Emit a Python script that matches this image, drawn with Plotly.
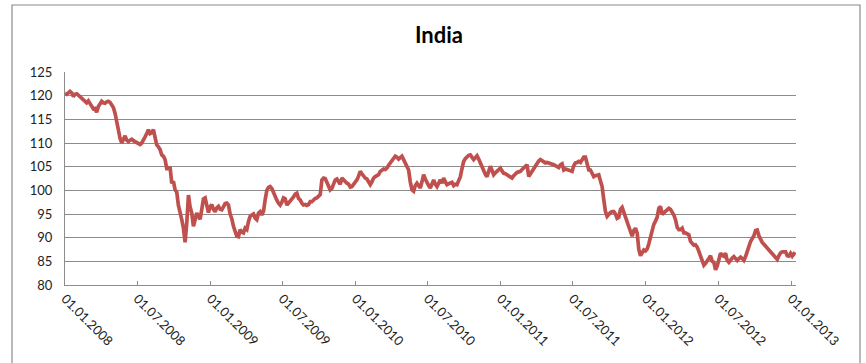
import pandas as pd
import plotly.graph_objects as go

# ---- data -------------------------------------------------------------
start_date = "2008-01-01"
end_date = "2013-01-12"

values = [
    120.5, 120.3, 120.6, 120.9, 120.6, 119.8, 120.3, 120.4, 120.1, 119.8,
    119.6, 119.3, 119.0, 118.5, 118.9, 118.3, 117.7, 117.2, 117.3, 116.5,
    117.7, 118.2, 118.8, 118.5, 118.4, 118.7, 118.8, 118.6, 118.1, 117.5,
    116.3, 114.2, 112.7, 111.0, 110.0, 110.6, 111.5, 110.6, 110.3, 110.6,
    110.8, 110.5, 110.3, 110.0, 109.7, 109.7, 110.0, 110.5, 111.3, 112.0,
    112.8, 112.0, 112.2, 112.8, 111.0, 109.6, 109.2, 108.6, 107.5, 107.2,
    106.5, 104.6, 104.6, 104.9, 101.5, 101.9, 100.1, 99.6, 96.8, 95.6,
    93.8, 92.0, 89.0, 93.1, 99.0,
    96.5, 95.2, 92.4, 94.0, 95.2, 94.5, 93.9, 96.0, 98.2, 98.4,
    96.6, 95.3, 96.5, 97.0, 96.0, 95.5, 96.3, 96.6, 96.0, 95.9,
    96.5, 97.2, 97.3, 96.9, 95.0, 94.0, 92.4, 91.3, 90.3, 90.2,
    91.7, 91.2, 91.0, 92.0, 91.7, 93.4, 94.5, 94.8, 95.0, 94.1,
    93.8, 95.2, 95.5, 94.8, 95.6, 98.0, 100.0, 100.6, 100.8, 100.4,
    99.4, 98.5, 97.9, 97.3, 96.9, 97.5, 98.4, 98.2, 96.9, 97.3,
    97.7, 98.0, 98.6, 99.2, 99.4, 98.3, 98.0, 97.3, 96.9, 97.0,
    96.8, 97.0, 97.6, 97.6, 98.0, 98.3, 98.4, 98.7, 99.1, 102.2,
    102.6, 102.5, 101.8, 101.2, 100.1, 100.4, 101.2, 102.2, 102.4, 101.8,
    101.3, 102.6, 102.2, 101.7, 101.5, 101.3, 100.7, 100.8, 101.2, 101.6,
    102.2, 103.0, 104.0, 103.5, 103.0, 102.6, 102.4, 101.8, 101.2, 101.8,
    102.6, 102.9, 103.1, 103.3, 104.0, 104.3, 104.5, 104.4, 104.7, 105.3,
    105.8, 106.5, 106.9, 107.2, 107.0, 106.6, 106.9, 107.2, 106.5, 105.8,
    105.2, 104.3, 101.8, 100.1, 99.8, 101.0, 101.5, 100.8, 100.5, 101.8,
    103.3, 102.4, 101.5, 101.0, 100.5, 101.4, 102.2, 101.3, 100.8, 101.5,
    102.2, 101.5, 102.6, 101.8, 101.2, 101.4, 101.5, 101.7, 101.0, 101.3,
    101.2, 102.0, 102.9, 104.6, 106.1, 106.7, 107.2, 107.4, 107.5, 107.0,
    106.5, 106.9, 107.3, 106.6, 105.8, 104.9, 104.0, 103.4, 102.9, 104.0,
    105.1, 104.2, 103.3, 103.7, 104.0, 104.3, 104.7, 104.1, 103.6, 103.5,
    103.3, 103.0, 102.8, 102.6, 103.1, 103.6, 103.8, 103.9, 104.0, 104.4,
    104.7, 105.2, 105.4, 102.9, 103.5, 104.0, 104.4, 105.1, 105.6, 106.2,
    106.5, 106.2, 106.0, 105.8, 105.9, 105.8, 105.8, 105.6, 105.4, 105.2,
    105.1, 104.8, 105.4, 105.6, 104.3, 104.5, 104.4, 104.3, 104.2, 104.0,
    105.2, 105.8, 105.9, 106.1, 105.9, 106.4, 107.0, 107.0, 105.8, 104.3,
    104.3, 103.5, 102.9, 103.1, 103.2, 103.3, 102.0, 100.8, 98.0, 95.5,
    94.5, 95.0, 95.3, 95.5, 95.5, 95.0, 94.1, 94.3, 96.0, 96.4,
    95.3, 94.5, 93.5, 92.4, 91.0, 90.3, 91.5, 92.0, 91.0, 87.5,
    86.2, 86.9, 87.4, 87.2, 87.6, 88.7, 90.2, 91.6, 92.8, 93.5,
    94.3, 96.2, 96.6, 94.9, 95.2, 95.5, 95.9, 96.2, 96.0, 95.5,
    94.8, 93.8, 92.2, 91.7, 91.7, 92.0, 91.0, 91.0, 90.9, 90.6,
    89.2, 88.8, 88.4, 88.5, 88.0, 87.1, 86.2, 85.5, 84.2, 84.6,
    85.0, 85.6, 86.2, 85.0, 84.8, 83.2, 84.0, 85.8, 86.7, 86.3,
    86.1, 86.7, 85.2, 84.8, 85.4, 85.7, 86.0, 85.6, 85.2, 85.6,
    85.9, 85.6, 85.2, 86.0, 87.2, 88.4, 89.2, 89.8, 90.4, 91.5,
    91.6, 90.4, 89.6, 89.0, 88.6, 88.2, 87.8, 87.4, 87.0, 86.6,
    86.2, 85.8, 85.4, 86.2, 86.8, 87.0, 87.0, 87.0, 86.2, 86.1,
    86.7, 86.1, 86.6, 86.4,
]

tick_dates = [
    "2008-01-01", "2008-07-01", "2009-01-01", "2009-07-01", "2010-01-01",
    "2010-07-01", "2011-01-01", "2011-07-01", "2012-01-01", "2012-07-01",
    "2013-01-01",
]
tick_labels = [
    "01.01.2008", "01.07.2008", "01.01.2009", "01.07.2009", "01.01.2010",
    "01.07.2010", "01.01.2011", "01.07.2011", "01.01.2012", "01.07.2012",
    "01.01.2013",
]
y_ticks = [80, 85, 90, 95, 100, 105, 110, 115, 120, 125]
title_text = "India"

# ---- figure -----------------------------------------------------------
dates = pd.date_range(start_date, end_date, periods=len(values))

FONT = "Lato, Carlito, Calibri, sans-serif"
GRID = "#8c8c8c"

fig = go.Figure()
fig.add_trace(go.Scatter(
    x=dates, y=values, mode="lines",
    line=dict(color="#C0504D", width=3.7),
    hoverinfo="skip", showlegend=False,
))

fig.update_layout(
    width=866, height=363,
    margin=dict(l=65, r=70, t=72, b=78),
    paper_bgcolor="white", plot_bgcolor="white",
    font=dict(family=FONT, size=13, color="#222222"),
    title=dict(
        text="<b>" + title_text + "</b>",
        x=439 / 866, xref="container", xanchor="center",
        y=1 - 35 / 363, yref="container", yanchor="middle",
        font=dict(family=FONT, size=22, color="#000000"),
    ),
    showlegend=False,
)

fig.update_xaxes(
    type="date",
    range=["2008-01-01", "2013-01-13"],
    tickmode="array", tickvals=tick_dates, ticktext=tick_labels,
    tickangle=45,
    ticks="inside", ticklen=4, tickcolor=GRID, tickwidth=1,
    showgrid=False, zeroline=False,
    showline=True, linecolor=GRID, linewidth=1,
    tickfont=dict(family=FONT, size=13, color="#222222"),
)
fig.update_yaxes(
    range=[80, 125],
    tickmode="array", tickvals=y_ticks,
    showgrid=True, gridcolor=GRID, gridwidth=1,
    zeroline=False,
    showline=True, linecolor=GRID, linewidth=1,
    ticks="", ticklabelstandoff=9,
    tickfont=dict(family=FONT, size=13, color="#222222"),
)

# outer chart border (like a spreadsheet chart frame)
fig.add_shape(
    type="rect", xref="paper", yref="paper",
    x0=(12 - 65) / 731, x1=(860 - 65) / 731,
    y0=-0.40, y1=1 + (72 - 5) / 213,
    line=dict(color="#8a8a8a", width=1.2), fillcolor="rgba(0,0,0,0)",
    layer="below",
)

fig.write_html("out.html")
